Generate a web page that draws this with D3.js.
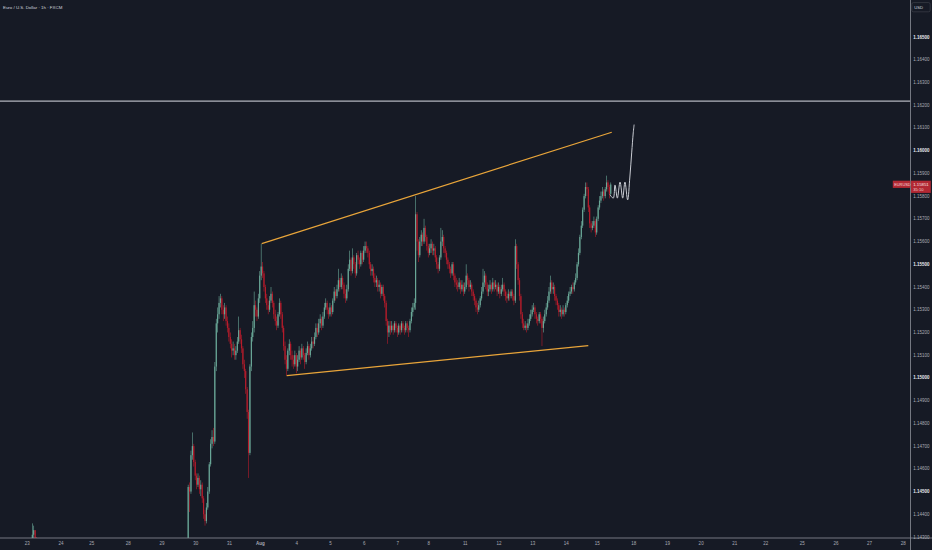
<!DOCTYPE html>
<html>
<head>
<meta charset="utf-8">
<script src="https://cdn.jsdelivr.net/npm/d3@7"></script>
<style>
  html, body { margin: 0; padding: 0; background: #161a25; }
  svg { display: block; }
  text { font-family: "Liberation Sans", Arial, sans-serif; }
</style>
</head>
<body>
<svg id="chart" width="932" height="550"></svg>
<script>
// prices are stored in pips above 1.14000 (price = 1.14 + pips / 10000)
const base = 1.14;

// day labels of the time axis and the hourly bar where each one sits
const dayLabels = ['23','24','25','28','29','30','31','Aug','4','5','6','7','8','11','12','13','14','15','18','19','20','21','22','25','26','27','28'];
const dayBars = [0,24,46,72,96,120,144,166,192,216,240,264,286,312,336,360,384,406,432,456,480,504,526,552,576,600,624];

// a few candles on Jul 23 that reach into the bottom of the pane
const earlyFirstBar = 4;
const earlyOpen = 26;
const earlyClose = [31,33,29,27];
const earlyHigh = [36,35,33,30];
const earlyLow = [24,29,25,22];

// main run of 1h candles, from bar 115 (Jul 29 evening) to the last bar
const firstBar = 115;
const firstOpen = 12;
const closePips = [
  52,50,66,70,63,57,53,56,51,53,
  47,40,37,43,50,62,71,74,72,105,
  124,128,133,135,130,128,131,125,122,118,
  115,112,113,110,112,116,121,117,113,106,
  103,95,85,67,105,118,122,132,130,127,
  135,145,149,146,140,135,132,130,134,137,
  133,128,125,123,128,133,128,122,114,108,
  104,112,115,110,108,106,110,105,108,112,
  109,113,110,107,111,114,110,113,116,115,
  118,122,120,124,126,123,127,131,133,130,
  128,131,129,134,138,136,139,143,140,144,
  141,137,135,139,148,152,147,153,150,146,
  154,152,150,155,152,156,158,157,155,150,
  147,148,144,142,143,140,141,137,140,136,
  133,125,120,123,121,123,121,124,122,120,
  123,121,124,122,121,124,122,121,125,129,
  131,133,172,160,154,160,163,160,166,162,
  158,155,157,159,156,157,153,150,148,153,
  160,162,157,155,152,150,148,146,150,145,
  142,141,140,142,139,141,138,140,145,143,
  140,141,138,136,134,131,130,132,135,138,
  142,145,141,138,139,141,139,142,140,141,
  138,140,137,139,141,138,136,135,137,136,
  138,136,134,158,150,143,136,128,124,122,
  123,122,124,126,128,130,131,128,126,125,
  128,126,122,125,128,131,134,138,142,139,
  140,136,134,132,129,130,128,130,129,132,
  134,137,138,140,139,142,144,150,155,162,
  167,174,180,184,183,175,168,166,167,169,
  164,170,175,178,180,182,180,183,186,184,
  181,185.1
];
const highPips = [
  53,54,68,76,71,64,58,58,57,55,
  54,48,42,45,52,63,73,77,78,107,
  126,131,136,137,136,132,133,132,127,124,
  120,117,116,115,114,118,127,122,119,114,
  108,104,96,86,106,120,125,138,134,131,
  137,147,159,151,147,141,137,134,136,140,
  138,134,130,127,129,135,134,129,123,116,
  110,113,117,116,112,110,112,111,110,114,
  113,115,114,111,113,116,115,115,118,118,
  120,124,124,126,128,127,129,133,135,134,
  131,133,132,135,140,139,141,148,144,146,
  145,142,139,141,150,156,153,157,154,151,
  155,156,153,156,156,158,160,160,158,156,
  151,150,149,146,145,144,143,142,141,141,
  137,134,126,125,125,125,124,125,125,123,
  124,124,125,125,123,125,125,123,126,131,
  133,135,180,173,161,162,165,164,170,167,
  163,159,159,161,160,159,158,154,151,154,
  166,165,163,158,156,153,151,149,151,151,
  146,144,143,144,143,143,142,142,150,146,
  144,143,142,139,137,135,133,134,136,140,
  148,147,146,142,141,143,142,144,143,143,
  142,142,141,141,144,142,139,138,139,138,
  139,139,137,161,159,151,144,137,129,126,
  125,124,126,128,130,132,133,132,129,127,
  129,129,127,127,130,133,136,140,145,143,
  142,141,137,135,133,132,131,132,131,133,
  136,138,140,141,142,143,146,151,157,163,
  169,175,181,186,186,184,176,169,169,171,
  170,171,176,180,182,184,183,184,189,187,
  185,186
];
const lowPips = [
  10,41,49,64,61,55,51,52,49,48,
  45,38,35,36,42,49,61,69,70,71,
  103,120,126,131,128,125,126,123,120,116,
  113,109,110,108,108,111,115,115,111,104,
  100,93,82,56,66,103,116,120,127,125,
  126,133,143,144,138,133,130,128,129,133,
  131,126,123,121,122,127,126,120,112,106,
  101,103,110,108,105,104,105,102,103,107,
  106,108,108,104,106,110,108,109,112,113,
  114,117,118,119,122,121,122,126,130,128,
  126,127,127,128,133,134,135,138,138,139,
  139,135,133,134,138,147,145,146,148,144,
  145,150,148,149,150,151,155,155,153,148,
  145,145,142,140,140,138,138,135,136,134,
  131,123,115,118,119,120,119,120,120,118,
  119,119,120,120,119,120,120,118,120,124,
  127,130,130,156,151,153,158,158,159,160,
  156,153,154,155,154,154,151,148,146,147,
  152,158,155,153,150,148,146,144,145,143,
  140,139,138,139,137,138,136,137,139,141,
  138,139,136,134,132,129,128,129,131,134,
  137,140,139,136,136,138,137,138,138,139,
  136,137,135,136,138,136,134,133,134,134,
  135,134,132,133,148,141,134,126,122,121,
  121,120,121,123,125,127,129,126,124,123,
  124,124,114,120,124,127,130,133,137,137,
  137,134,132,130,127,127,126,127,127,128,
  131,133,136,137,137,138,141,143,149,154,
  161,166,173,179,180,173,166,164,165,166,
  162,163,169,174,177,179,178,179,182,182,
  179,180
];

// drawings: rising channel, horizontal level, projected path
const upperLine = [[167.4, 159.1], [416.7, 208.1]];
const lowerLine = [[185.2, 101.0], [400.0, 114.2]];
const levelPips = 221.8;
const projection = [
  [415.5,180.5],[417.8,179.1],[419,184.9],[420.7,179.1],[422.6,186.2],[424.5,179.1],
  [426.1,186.2],[428,178.3],[429.6,188.4],[430.9,199],[432,207.8],[432.6,211.3]
];
const lastPrice = 1.15851;
const countdown = '35:10';

const priceTicks = d3.range(1143, 1166).map(v => v / 1000);

// ---------------------------------------------------------------
const W = 932, H = 550;
const paneRight = 910.5, paneBottom = 538;
const svg = d3.select('#chart');
const toPrice = p => base + p / 10000;
const fmt = d3.format('.5f');

const x = d3.scaleLinear().domain([0, 624]).range([26.7, 902.8]);
const y = d3.scaleLinear().domain([1.143, 1.165]).range([537, 37]);

svg.append('rect').attr('width', W).attr('height', H).attr('fill', '#161a25');

svg.append('clipPath').attr('id', 'pane')
  .append('rect').attr('x', 0).attr('y', 0).attr('width', paneRight).attr('height', paneBottom);

const pane = svg.append('g').attr('clip-path', 'url(#pane)');

// build candles
function makeCandles(start, open0, cl, hi, lo) {
  const out = [];
  let o = open0;
  cl.forEach((c, k) => {
    const hh = Math.max(hi[k], o, c), ll = Math.min(lo[k], o, c);
    out.push({i: start + k, o: toPrice(o), c: toPrice(c), h: toPrice(hh), l: toPrice(ll)});
    o = c;
  });
  return out;
}
const candles = makeCandles(earlyFirstBar, earlyOpen, earlyClose, earlyHigh, earlyLow)
  .concat(makeCandles(firstBar, firstOpen, closePips, highPips, lowPips));

const upCol = '#6aa898', downCol = '#b71c2b';

const cg = pane.append('g');
cg.selectAll('rect.wick').data(candles).join('rect')
  .attr('class', 'wick')
  .attr('x', d => x(d.i) - 0.3)
  .attr('width', 0.6)
  .attr('y', d => y(d.h))
  .attr('height', d => Math.max(0.5, y(d.l) - y(d.h)))
  .attr('fill', d => d.c >= d.o ? upCol : downCol);
cg.selectAll('rect.body').data(candles).join('rect')
  .attr('class', 'body')
  .attr('x', d => x(d.i) - 0.6)
  .attr('width', 1.2)
  .attr('y', d => y(Math.max(d.o, d.c)))
  .attr('height', d => Math.max(0.6, Math.abs(y(d.o) - y(d.c))))
  .attr('fill', d => d.c >= d.o ? upCol : downCol);

// horizontal level
pane.append('line')
  .attr('x1', 0).attr('x2', paneRight)
  .attr('y1', y(toPrice(levelPips))).attr('y2', y(toPrice(levelPips)))
  .attr('stroke', '#b2b5be').attr('stroke-width', 1.2);

// channel lines
const seg = d3.line().x(d => x(d[0])).y(d => y(toPrice(d[1])));
[upperLine, lowerLine].forEach(l => {
  pane.append('path').attr('d', seg(l))
    .attr('fill', 'none').attr('stroke', '#e9a53a').attr('stroke-width', 1.2);
});

// projected path
pane.append('path')
  .attr('d', seg.curve(d3.curveCatmullRom.alpha(0.5))(projection))
  .attr('fill', 'none').attr('stroke', '#c9ccd3').attr('stroke-width', 1)
  .attr('stroke-linecap', 'round');

// axes frame
svg.append('line').attr('x1', 0).attr('x2', W).attr('y1', paneBottom).attr('y2', paneBottom)
  .attr('stroke', '#8d9099').attr('stroke-width', 0.8);
svg.append('line').attr('x1', paneRight).attr('x2', paneRight).attr('y1', 0).attr('y2', H)
  .attr('stroke', '#8d9099').attr('stroke-width', 0.8);

// price axis labels, placed with the y scale
const isMajor = d => Math.round(d * 1000) % 5 === 0;
svg.append('g').attr('class', 'price-axis')
  .selectAll('text').data(priceTicks).join('text')
  .attr('x', 913.2)
  .attr('y', d => y(d))
  .attr('dy', '0.35em')
  .attr('font-size', 4.5)
  .attr('fill', d => isMajor(d) ? '#e6e8ee' : '#a9acb5')
  .attr('font-weight', d => isMajor(d) ? 'bold' : 'normal')
  .text(fmt);

// time axis
const xAxis = svg.append('g')
  .attr('transform', `translate(0,${paneBottom})`)
  .call(d3.axisBottom(x).tickValues(dayBars).tickFormat((d, k) => dayLabels[k]).tickSize(0).tickPadding(4.2));
xAxis.select('.domain').remove();
xAxis.selectAll('text')
  .attr('font-family', '"Liberation Sans", Arial, sans-serif')
  .attr('font-size', 4.5)
  .attr('fill', '#a9acb5')
  .attr('font-weight', (d, k) => dayLabels[k] === 'Aug' ? 'bold' : 'normal');

// title
svg.append('text').attr('x', 3).attr('y', 8.6)
  .attr('font-size', 4.4).attr('fill', '#d1d4dc')
  .text('Euro / U.S. Dollar · 1h · FXCM');

// currency box
svg.append('rect').attr('x', 911.8).attr('y', 2.6).attr('width', 18.4).attr('height', 9.2).attr('rx', 1.6)
  .attr('fill', '#161a25').attr('stroke', '#434651').attr('stroke-width', 0.6);
svg.append('text').attr('x', 914.2).attr('y', 8.7).attr('font-size', 4.2).attr('fill', '#d1d4dc').text('USD');

// last price tags
const ly = y(lastPrice);
svg.append('rect').attr('x', 892.8).attr('y', ly - 3.8).attr('width', 17.4).attr('height', 7.2)
  .attr('fill', '#b22833');
svg.append('text').attr('x', 894.2).attr('y', ly + 1.4).attr('font-size', 3.9).attr('fill', '#f3d6d8').text('EURUSD');
svg.append('rect').attr('x', 911).attr('y', ly - 3.8).attr('width', 19.8).attr('height', 12.2)
  .attr('fill', '#b22833');
svg.append('text').attr('x', 913.2).attr('y', ly + 1.6).attr('font-size', 4.3).attr('fill', '#f6e3e4').text(fmt(lastPrice));
svg.append('text').attr('x', 913.2).attr('y', ly + 6.8).attr('font-size', 4.1).attr('fill', '#f0cfd2').text(countdown);
</script>
</body>
</html>
